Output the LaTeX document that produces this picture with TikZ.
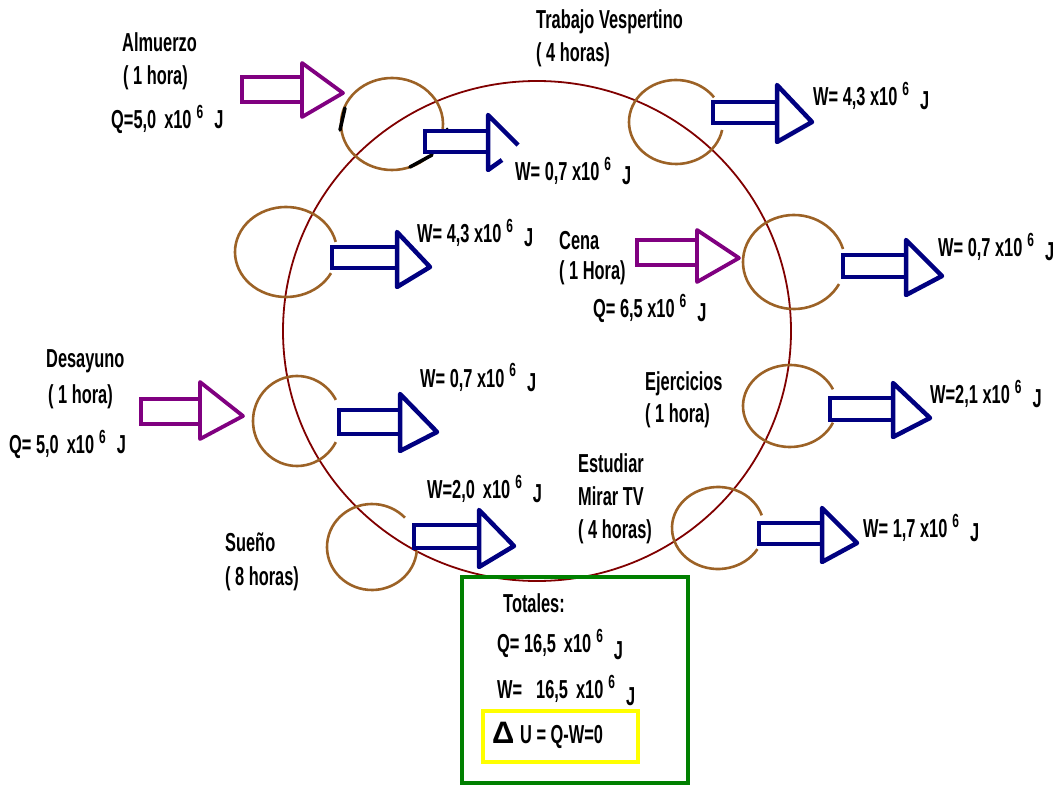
\documentclass[tikz,border=0pt]{standalone}
\usepackage{fontspec}
\newfontfamily\labfont[FakeStretch=0.63]{Liberation Sans}
\newfontfamily\deltafont{Liberation Sans}

% "x10^6 J" with a raised exponent; optional argument shifts the J
\newcommand\pten[1][-4pt]{x10\hspace{5pt}\raisebox{10pt}{\fontsize{19}{19}\selectfont 6}\hspace{11pt}\raisebox{#1}{J}}

\definecolor{ringred}{RGB}{128,0,0}
\definecolor{loopbrown}{RGB}{156,98,38}
\definecolor{wnavy}{RGB}{0,0,128}
\definecolor{qpurple}{RGB}{128,0,128}
\definecolor{boxgreen}{RGB}{0,128,0}
\definecolor{boxyellow}{RGB}{255,255,0}

\tikzset{
  lbl/.style={font=\labfont\bfseries\fontsize{26}{26}\selectfont, inner sep=0pt, anchor=base west},
  mainring/.style={draw=ringred, line width=1.8pt},
  subloop/.style={draw=loopbrown, line width=2.6pt},
  wshaft/.style={draw=wnavy, line width=4.5pt, line join=miter},
  whead/.style={draw=wnavy, line width=4.5pt, line join=round},
  qshaft/.style={draw=qpurple, line width=3.8pt, line join=miter},
  qhead/.style={draw=qpurple, line width=3.8pt, line join=round},
  pen/.style={draw=black, line width=3.5pt, line cap=round},
}

\begin{document}
\begin{tikzpicture}[x=1pt, y=-1pt]
\useasboundingbox (0,0) rectangle (1063,786);

% daily cycle
\draw[mainring] (537,331) ellipse [x radius=254, y radius=250];

% activity loops, each open on the right
\draw[subloop] ([shift={(45:51 and 46)}]392,124) arc [start angle=45, end angle=366, x radius=51, y radius=46];
\draw[subloop] ([shift={(11:47 and 42)}]676,122) arc [start angle=11, end angle=324, x radius=47, y radius=42];
\draw[subloop] ([shift={(28:51 and 45)}]286,252) arc [start angle=28, end angle=347, x radius=51, y radius=45];
\draw[subloop] ([shift={(28:51 and 47)}]794,262) arc [start angle=28, end angle=344, x radius=51, y radius=47];
\draw[subloop] ([shift={(24:47 and 41)}]790,406) arc [start angle=24, end angle=336, x radius=47, y radius=41];
\draw[subloop] ([shift={(31:46 and 41)}]718,528) arc [start angle=31, end angle=342, x radius=46, y radius=41];
\draw[subloop] ([shift={(28:44 and 45)}]297,421) arc [start angle=28, end angle=332, x radius=44, y radius=45];
\draw[subloop] ([shift={(5:45 and 43)}]372,547) arc [start angle=5, end angle=317, x radius=45, y radius=43];

% pen strokes on the lunch loop
\draw[pen] (345,108) -- (340,130);
\draw[pen] (410,167) -- (432,155);
\fill (447,129) circle [radius=1.5];

% heat in (purple)
\draw[qshaft] (242,77) rectangle (302,102);
\draw[qhead] (302,63) -- (343,93) -- (302,117) -- cycle;
\draw[qshaft] (637,240) rectangle (697,265);
\draw[qhead] (697,230) -- (739,258) -- (697,282) -- cycle;
\draw[qshaft] (141,399) rectangle (200,424);
\draw[qhead] (200,382) -- (243,416) -- (200,439) -- cycle;

% work out (navy)
\draw[wshaft] (425,131) rectangle (488,152);
\draw[whead] (518,145) -- (488,115) -- (488,170) -- (502,160);
\draw[wshaft] (713,102) rectangle (777,123);
\draw[whead] (777,85) -- (812,122) -- (777,142) -- cycle;
\draw[wshaft] (332,247) rectangle (397,268);
\draw[whead] (397,232) -- (430,267) -- (397,287) -- cycle;
\draw[wshaft] (843,255) rectangle (906,277);
\draw[whead] (906,240) -- (942,276) -- (906,295) -- cycle;
\draw[wshaft] (830,398) rectangle (893,420);
\draw[whead] (893,383) -- (930,418) -- (893,437) -- cycle;
\draw[wshaft] (759,523) rectangle (822,544);
\draw[whead] (822,508) -- (857,543) -- (822,562) -- cycle;
\draw[wshaft] (339,410) rectangle (400,434);
\draw[whead] (400,394) -- (437,432) -- (400,451) -- cycle;
\draw[wshaft] (414,525) rectangle (479,548);
\draw[whead] (479,510) -- (514,546) -- (479,567) -- cycle;

% activity labels
\node[lbl] (alm1) at (122,52) {Almuerzo};
\node[lbl] (alm2) at (123,85) {( 1 hora)};
\node[lbl] (almq) at (111,129) {Q=5,0\hspace{8pt}\pten[0pt]};
\node[lbl] (almw) at (515,181) {W= 0,7 \pten};

\node[lbl] (tra1) at (536,29) {Trabajo Vespertino};
\node[lbl] (tra2) at (536,62) {( 4 horas)};
\node[lbl] (traw) at (813,106) {W= 4,3 \pten};

\node[lbl] (midw) at (417,243) {W= 4,3 \pten};

\node[lbl] (cen1) at (559,250) {Cena};
\node[lbl] (cen2) at (559,280) {( 1 Hora)};
\node[lbl] (cenq) at (593,318) {Q= 6,5 \pten};
\node[lbl] (cenw) at (938,257) {W= 0,7 \pten};

\node[lbl] (des1) at (46,367) {Desayuno};
\node[lbl] (des2) at (48,403) {( 1 hora)};
\node[lbl] (desq) at (9,453) {Q= 5,0\hspace{8pt}\pten[0pt]};
\node[lbl] (desw) at (420,387) {W= 0,7 \pten};

\node[lbl] (eje1) at (645,390) {Ejercicios};
\node[lbl] (eje2) at (645,422) {( 1 hora)};
\node[lbl] (ejew) at (930,403) {W=2,1 \pten};

\node[lbl] (est1) at (578,472) {Estudiar};
\node[lbl] (est2) at (578,505) {Mirar TV};
\node[lbl] (est3) at (578,538) {( 4 horas)};
\node[lbl] (estw) at (863,537) {W= 1,7 \pten};

\node[lbl] (sue1) at (225,551) {Sueño};
\node[lbl] (sue2) at (225,585) {( 8 horas)};
\node[lbl] (suew) at (427,498) {W=2,0\hspace{8pt}\pten};

% totals
\draw[draw=boxgreen, line width=3.5pt] (462,577) rectangle (688,783);
\node[lbl] (tot) at (503,612) {Totales:};
\node[lbl] (totq) at (497,652) {Q= 16,5\hspace{8pt}\pten[-7pt]};
\node[lbl] (totw) at (497,698) {W=\hspace{14pt}16,5\hspace{8pt}\pten[-7pt]};
\draw[draw=boxyellow, line width=3.5pt] (483,711) rectangle (638,762);
\node[anchor=base west, inner sep=0pt, font=\deltafont\bfseries\fontsize{31}{31}\selectfont] (delta) at (492,743) {Δ};
\node[lbl] (du) at (520,743) {U = Q-W=0};
\end{tikzpicture}
\end{document}
